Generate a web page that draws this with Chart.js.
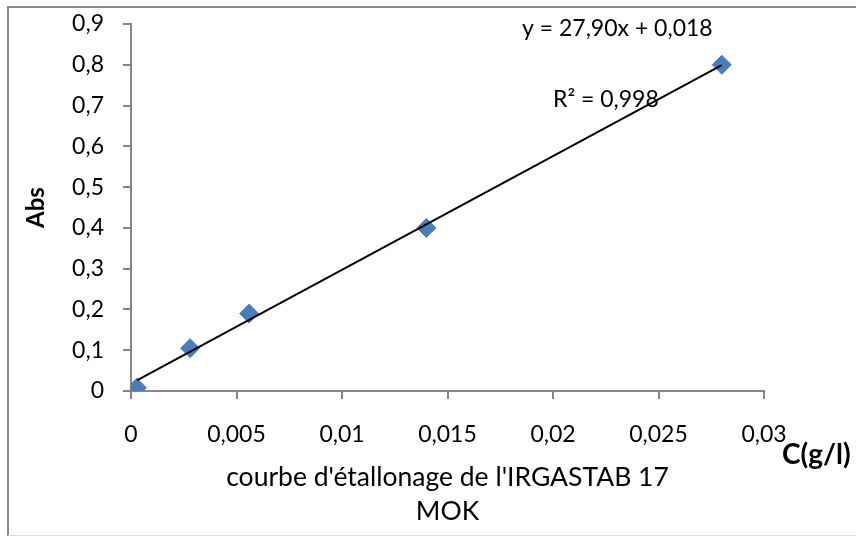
<!DOCTYPE html>
<html lang="fr">
<head>
  <meta charset="UTF-8">
  <title>Courbe d'étallonage IRGASTAB 17 MOK</title>
  <script src="https://cdn.jsdelivr.net/npm/chart.js"></script>
  <style>
    body { margin: 0; background: #fff; }
    .frame {
      position: absolute; left: 7px; top: 6px; width: 900px; height: 527px;
      border-left: 2px solid #8a8a8a; border-top: 2px solid #8a8a8a; border-bottom: 1px solid #dcdcdc;
    }
    #calib { position: absolute; left: 0; top: 0; }
  </style>
</head>
<body>
  <div class="frame"></div>
  <canvas id="calib" width="856" height="536"></canvas>

  <script>
    // mesures (concentration en g/l, absorbance)
    const concentration = [0.00028, 0.0028, 0.0056, 0.014, 0.028];
    const absorbance = [0.008, 0.105, 0.19, 0.40, 0.80];

    // droite de régression
    const slope = 27.90;
    const intercept = 0.018;
    const equationText = 'y = 27,90x + 0,018';
    const r2Text = 'R² = 0,998';

    const xTicks = [0, 0.005, 0.01, 0.015, 0.02, 0.025, 0.03];
    const xTickLabels = ['0', '0,005', '0,01', '0,015', '0,02', '0,025', '0,03'];
    const yTicks = [0, 0.1, 0.2, 0.3, 0.4, 0.5, 0.6, 0.7, 0.8, 0.9];
    const yTickLabels = ['0', '0,1', '0,2', '0,3', '0,4', '0,5', '0,6', '0,7', '0,8', '0,9'];

    const xFirst = concentration[0];
    const xLast = concentration[concentration.length - 1];
    const trendPoints = [xFirst, xLast].map(x => ({ x: x, y: slope * x + intercept }));

    const points = concentration.map((c, i) => ({ x: c, y: absorbance[i] }));

    const AXIS = '#868686';
    Chart.defaults.font.family = 'Lato';
    Chart.defaults.color = '#000';

    // equation, R² and unit label
    const notes = {
      id: 'notes',
      beforeDatasetsDraw(chart) {
        const ctx = chart.ctx;
        ctx.save();
        ctx.fillStyle = '#000';
        ctx.textBaseline = 'middle';
        ctx.textAlign = 'left';
        ctx.font = '23px Lato';
        ctx.fillText(equationText, 522, 29);
        ctx.fillText(r2Text, 553, 100);
        ctx.font = 'bold 28px Lato';
        ctx.fillText('C(g/l)', 782, 455);
        ctx.restore();
      }
    };

    const ctx = document.getElementById('calib').getContext('2d');
    new Chart(ctx, {
      type: 'scatter',
      data: {
        datasets: [
          {
            type: 'line',
            data: trendPoints,
            borderColor: '#000',
            borderWidth: 2,
            pointRadius: 0,
            fill: false,
            order: 0
          },
          {
            data: points,
            pointStyle: 'rectRot',
            pointRadius: 9.5,
            backgroundColor: '#4a7ebb',
            borderColor: '#4a7ebb',
            borderWidth: 1,
            order: 1
          }
        ]
      },
      options: {
        responsive: false,
        animation: false,
        devicePixelRatio: 1,
        layout: { padding: { left: 10, top: 24, right: 92, bottom: 0 } },
        plugins: {
          legend: { display: false },
          tooltip: { enabled: false }
        },
        scales: {
          x: {
            type: 'linear',
            min: 0,
            max: 0.03,
            afterBuildTicks: s => { s.ticks = xTicks.map(v => ({ value: v })); },
            afterFit: s => { s.height = 145; },
            ticks: {
              callback: (v, i) => xTickLabels[i],
              font: { size: 23 },
              padding: 22,
              maxRotation: 0,
              autoSkip: false
            },
            grid: { drawOnChartArea: false, color: AXIS, lineWidth: 2, tickLength: 8 },
            border: { color: AXIS, width: 2 },
            title: {
              display: true,
              text: ["courbe d'étallonage de l'IRGASTAB 17", 'MOK'],
              font: { size: 26.5, lineHeight: 1.28 },
              padding: { top: 0, bottom: 8 }
            }
          },
          y: {
            min: 0,
            max: 0.9,
            afterBuildTicks: s => { s.ticks = yTicks.map(v => ({ value: v })); },
            afterFit: s => {
              s.width = 121;
              // labels sit beside the axis, no extra room above/below the plot
              s.paddingTop = 0;
              s.paddingBottom = 0;
            },
            ticks: {
              callback: (v, i) => yTickLabels[i],
              font: { size: 23 },
              padding: 19
            },
            grid: { drawOnChartArea: false, color: AXIS, lineWidth: 2, tickLength: 8 },
            border: { color: AXIS, width: 2 },
            title: {
              display: true,
              text: 'Abs',
              font: { size: 24, weight: 'bold' },
              padding: { top: 12, bottom: 0 }
            }
          }
        }
      },
      plugins: [notes]
    });
  </script>
</body>
</html>
